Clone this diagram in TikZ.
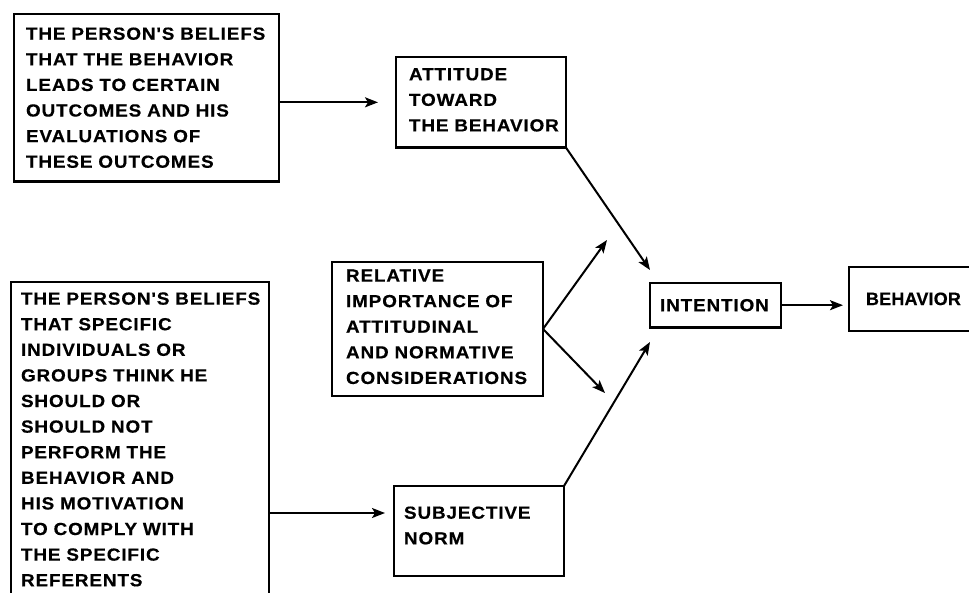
\documentclass[tikz,border=0pt]{standalone}
\usepackage{fontspec}
\newfontfamily\diafont{Liberation Sans}[FakeStretch=1.08,LetterSpace=5,WordSpace=1.4,FakeBold=0.4]
\newfontfamily\behfont{Liberation Sans}[FakeStretch=1.0,LetterSpace=1,FakeBold=0.4]
\usetikzlibrary{arrows.meta,calc}
\hyphenpenalty=10000
\exhyphenpenalty=10000
\newcommand\lastdp[1]{\rule[-#1]{0pt}{#1}}
\begin{document}
\begin{tikzpicture}[x=1pt,y=-1pt,
  box/.style={draw, line width=2.3pt, rectangle, anchor=north west, align=left,
    outer sep=0pt, font=\diafont\bfseries\fontsize{17.5pt}{25.6pt}\selectfont},
  arr/.style={line width=2pt, -{Stealth[length=13pt,width=10pt,inset=3pt]}}]
\clip (0,0) rectangle (969,592);
\fill[white] (0,0) rectangle (969,592);

\node[box, inner xsep=12pt, inner ysep=13.5pt, text width=241pt] (b1) at (14,14)
  {THE~PERSON'S~BELIEFS\\THAT~THE~BEHAVIOR\\LEADS~TO~CERTAIN\\OUTCOMES~AND~HIS\\EVALUATIONS~OF\\THESE~OUTCOMES};

\node[box, inner xsep=13pt, inner ysep=11.2pt, text width=144pt] (att) at (396,57)
  {ATTITUDE\\TOWARD\\THE~BEHAVIOR\lastdp{5pt}};

\node[box, inner xsep=14pt, inner ysep=7.5pt, text width=183pt] (rel) at (332,262)
  {RELATIVE\\IMPORTANCE~OF\\ATTITUDINAL\\AND~NORMATIVE\\CONSIDERATIONS\lastdp{4.5pt}};

\node[box, inner xsep=10pt, inner ysep=10.4pt, text width=238pt] (b2) at (11,282)
  {THE~PERSON'S~BELIEFS\\THAT~SPECIFIC\\INDIVIDUALS~OR\\GROUPS~THINK~HE\\SHOULD~OR\\SHOULD~NOT\\PERFORM~THE\\BEHAVIOR~AND\\HIS~MOTIVATION\\TO~COMPLY~WITH\\THE~SPECIFIC\\REFERENTS};

\node[box, inner xsep=10pt, inner ysep=20.5pt, text width=150pt] (sn) at (394,486)
  {SUBJECTIVE\\NORM\lastdp{11pt}};

\node[box, inner xsep=10pt, inner ysep=16pt, text width=111pt] (int) at (650,283)
  {INTENTION};

\node[box, inner xsep=17pt, inner ysep=25.5pt, text width=104pt,
  font=\behfont\bfseries\fontsize{18pt}{25.6pt}\selectfont] (beh) at (849,267)
  {BEHAVIOR};

\coordinate (tA) at (650,270);
\coordinate (tU) at (607,240);
\coordinate (tD) at (605,393);
\coordinate (tB) at (650,342);
\coordinate (tC) at (385,513);

\draw[arr, shorten >=18pt] (b1.east |- att.west) -- (att.west);
\draw[arr] (att.south east) -- (tA);
\draw[arr] (rel.east) -- (tU);
\draw[arr] (rel.east) -- (tD);
\draw[arr] (sn.north east) -- (tB);
\draw[arr, shorten >=6pt] (int.east) -- (int.east -| beh.west);
\draw[arr] (b2.north east |- tC) -- (tC);
\end{tikzpicture}
\end{document}
